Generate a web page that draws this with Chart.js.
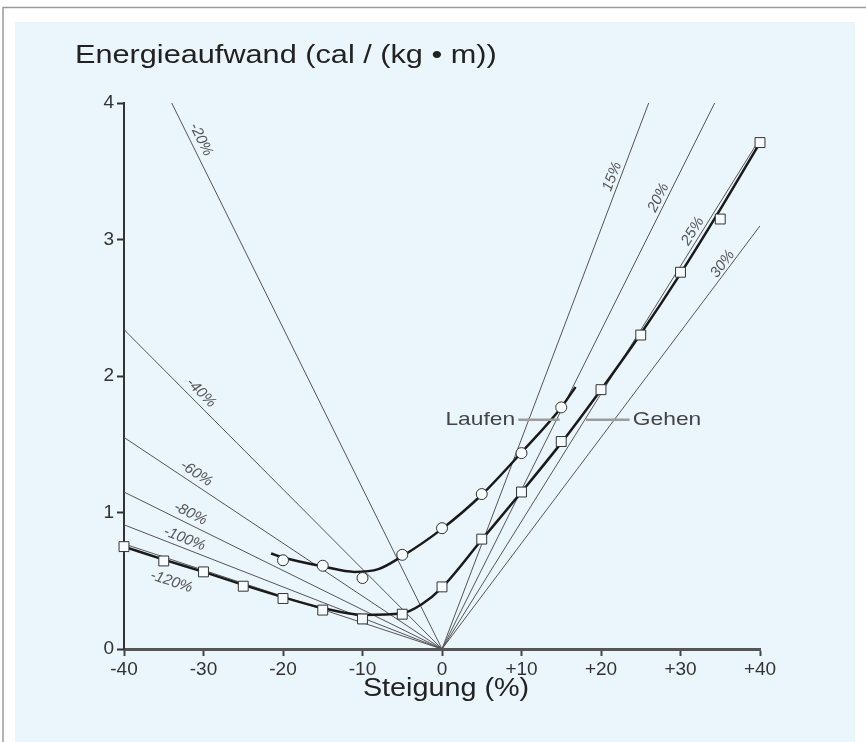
<!DOCTYPE html>
<html>
<head>
<meta charset="utf-8">
<script src="https://cdn.jsdelivr.net/npm/chart.js@4.4.1/dist/chart.umd.min.js"></script>
<style>
  html, body { margin: 0; padding: 0; background: #fff; }
</style>
</head>
<body>
<canvas id="chart1" width="866" height="742"></canvas>
<script>
// x ticks (Steigung in %) and y ticks (Energieaufwand)
const gradeTicks = [-40, -30, -20, -10, 0, 10, 20, 30, 40];
const gradeTickLabels = ['-40', '-30', '-20', '-10', '0', '+10', '+20', '+30', '+40'];
const energyTicks = [0, 1, 2, 3, 4];

// Gehen - measured points (squares)
const walkX = [-40, -35, -30, -25, -20, -15, -10, -5, 0, 5, 10, 15, 20, 25, 30, 35, 40];
const walkY = [0.75, 0.645, 0.565, 0.46, 0.37, 0.285, 0.22, 0.255, 0.455, 0.805, 1.15, 1.52, 1.9, 2.3, 2.76, 3.15, 3.71];
// Gehen - drawn curve
const walkCurveX = [-40, -35, -30, -25, -20, -15, -10, -5, -2.5, 0, 5, 10, 15, 20, 25, 30, 35, 40];
const walkCurveY = [0.75, 0.655, 0.565, 0.47, 0.38, 0.3, 0.25, 0.262, 0.33, 0.45, 0.8, 1.15, 1.51, 1.9, 2.31, 2.75, 3.22, 3.71];

// Laufen - measured points (circles)
const runX = [-20, -15, -10, -5, 0, 5, 10, 15];
const runY = [0.65, 0.61, 0.52, 0.69, 0.885, 1.135, 1.435, 1.77];
// Laufen - drawn curve
const runCurveX = [-21.5, -20, -15, -11, -8, -5, 0, 5, 10, 15, 16.8];
const runCurveY = [0.7, 0.67, 0.605, 0.565, 0.585, 0.68, 0.88, 1.13, 1.44, 1.77, 1.92];

// Wirkungsgrad-Linien durch den Ursprung
const isoLabels = ['-20%', '-40%', '-60%', '-80%', '-100%', '-120%', '15%', '20%', '25%', '30%'];
const isoEndX = [-34, -40, -40, -40, -40, -40, 26, 34.3, 40, 40];
const isoEndY = [4, 2.34, 1.55, 1.15, 0.91, 0.77, 4, 4, 3.74, 3.1];

const FONT = '"Liberation Sans", Arial, sans-serif';

const toXY = (xs, ys) => xs.map((v, i) => ({x: v, y: ys[i]}));

const isoDatasets = isoLabels.map((lab, i) => ({
  label: lab,
  data: [{x: 0, y: 0}, {x: isoEndX[i], y: isoEndY[i]}],
  borderColor: '#555',
  borderWidth: 1,
  pointRadius: 0,
  tension: 0
}));

// label position along each line (fraction from origin) and distance from it
const isoPlace = [
  {t: 0.925, off: 10}, {t: 0.78, off: 10}, {t: 0.79, off: 10}, {t: 0.805, off: 10},
  {t: 0.82, off: 9}, {t: 0.83, off: -21},
  {t: 0.86, off: 8}, {t: 0.82, off: 8}, {t: 0.81, off: 8}, {t: 0.9, off: 7}
];

// text a bit wider than the plain font, like the original lettering
function wideText(c, text, x, y, align, sx) {
  c.save();
  c.translate(x, y);
  c.scale(sx, 1);
  c.textAlign = align;
  c.fillText(text, 0, 0);
  c.restore();
}

const decor = {
  id: 'decor',
  beforeDraw(chart) {
    const c = chart.ctx;
    c.save();
    c.fillStyle = '#fff';
    c.fillRect(0, 0, chart.width, chart.height);
    c.strokeStyle = '#9a9a9a';
    c.lineWidth = 1.5;
    c.beginPath();
    c.moveTo(3, 742); c.lineTo(3, 7.5); c.lineTo(866, 7.5);
    c.stroke();
    c.fillStyle = '#eaf5fc';
    c.fillRect(15, 22, 840, 720);
    c.restore();
  },
  afterDatasetsDraw(chart) {
    const c = chart.ctx;
    const xs = chart.scales.x, ys = chart.scales.y;
    const x0 = xs.getPixelForValue(0), y0 = ys.getPixelForValue(0);
    c.save();
    // iso line labels
    c.fillStyle = '#555';
    c.font = 'italic 15px ' + FONT;
    c.textAlign = 'center';
    c.textBaseline = 'middle';
    isoLabels.forEach((lab, i) => {
      const dx = xs.getPixelForValue(isoEndX[i]) - x0;
      const dy = ys.getPixelForValue(isoEndY[i]) - y0;
      const p = isoPlace[i];
      const ang = dx < 0 ? Math.atan2(-dy, -dx) : Math.atan2(dy, dx);
      c.save();
      c.translate(x0 + dx * p.t, y0 + dy * p.t);
      c.rotate(ang);
      c.fillText(lab, 0, -p.off);
      c.restore();
    });
    // Laufen / Gehen
    const ly = ys.getPixelForValue(1.68);
    c.strokeStyle = '#9c9c9c';
    c.lineWidth = 2.5;
    c.beginPath();
    c.moveTo(xs.getPixelForValue(9.6), ly); c.lineTo(xs.getPixelForValue(14.8), ly);
    c.moveTo(xs.getPixelForValue(18.1), ly); c.lineTo(xs.getPixelForValue(23.6), ly);
    c.stroke();
    c.fillStyle = '#444';
    c.font = '19px ' + FONT;
    wideText(c, 'Laufen', xs.getPixelForValue(9.2), ly, 'right', 1.2);
    wideText(c, 'Gehen', xs.getPixelForValue(24), ly, 'left', 1.2);
    // axis titles
    c.fillStyle = '#222';
    c.font = '26px ' + FONT;
    wideText(c, 'Energieaufwand (cal / (kg \u2022 m))', 75, 56, 'left', 1.18);
    c.font = '25px ' + FONT;
    wideText(c, 'Steigung (%)', (xs.left + xs.right) / 2 + 4, 689, 'center', 1.15);
    c.restore();
  }
};

const ctx = document.getElementById('chart1');

const myChart1 = new Chart(ctx, {
  type: 'line',
  data: {
    datasets: [
      {
        label: 'Gehen Messwerte',
        data: toXY(walkX, walkY),
        showLine: false,
        clip: false,
        pointStyle: 'rect',
        pointRadius: 7,
        pointBackgroundColor: '#f6fbfe',
        pointBorderColor: '#333',
        pointBorderWidth: 1
      },
      {
        label: 'Laufen Messwerte',
        data: toXY(runX, runY),
        showLine: false,
        clip: false,
        pointStyle: 'circle',
        pointRadius: 5.5,
        pointBackgroundColor: '#f6fbfe',
        pointBorderColor: '#333',
        pointBorderWidth: 1
      },
      {
        label: 'Gehen',
        data: toXY(walkCurveX, walkCurveY),
        borderColor: '#1a1a1a',
        borderWidth: 2.5,
        pointRadius: 0,
        clip: false,
        cubicInterpolationMode: 'monotone'
      },
      {
        label: 'Laufen',
        data: toXY(runCurveX, runCurveY),
        borderColor: '#1a1a1a',
        borderWidth: 2.5,
        pointRadius: 0,
        cubicInterpolationMode: 'monotone'
      },
      ...isoDatasets
    ]
  },
  options: {
    responsive: false,
    animation: false,
    layout: { padding: { left: 0, right: 106, top: 103, bottom: 0 } },
    plugins: { legend: { display: false }, tooltip: { enabled: false } },
    scales: {
      x: {
        type: 'linear',
        min: -40,
        max: 40,
        afterFit: s => { s.height = 93; },
        afterBuildTicks: s => { s.ticks = gradeTicks.map(v => ({value: v})); },
        ticks: {
          color: '#333',
          padding: 2,
          font: { family: FONT, size: 19 },
          callback: (v) => gradeTickLabels[gradeTicks.indexOf(v)]
        },
        grid: { drawOnChartArea: false, tickLength: 7, tickColor: '#444', tickWidth: 2 },
        border: { color: '#555', width: 3 }
      },
      y: {
        type: 'linear',
        min: 0,
        max: 4,
        afterFit: s => { s.width = 124; },
        afterBuildTicks: s => { s.ticks = energyTicks.map(v => ({value: v})); },
        ticks: {
          color: '#333',
          padding: 3,
          font: { family: FONT, size: 19 }
        },
        grid: { drawOnChartArea: false, tickLength: 7, tickColor: '#333', tickWidth: 2 },
        border: { color: '#333', width: 2 }
      }
    }
  },
  plugins: [decor]
});
</script>
</body>
</html>
